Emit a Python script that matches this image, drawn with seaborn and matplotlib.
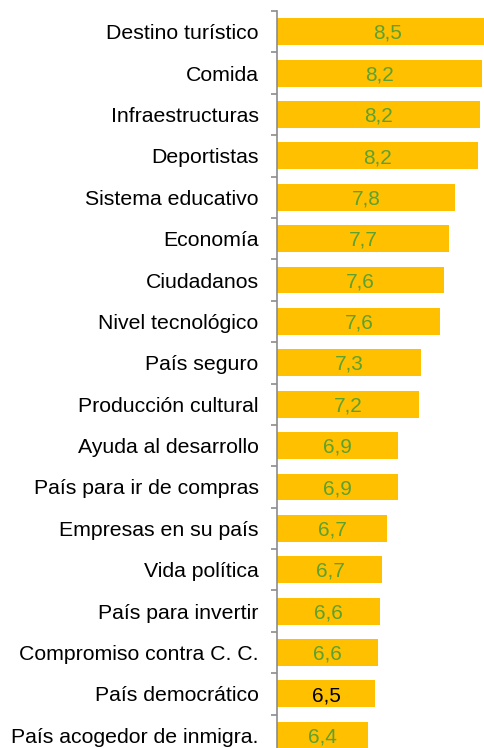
import numpy as np
import matplotlib
matplotlib.use('Agg')
import matplotlib.pyplot as plt
import seaborn as sns

# Valoraciones (escala 0-10)
categorias = ['Destino turístico', 'Comida', 'Infraestructuras', 'Deportistas',
              'Sistema educativo', 'Economía', 'Ciudadanos', 'Nivel tecnológico',
              'País seguro', 'Producción cultural', 'Ayuda al desarrollo',
              'País para ir de compras', 'Empresas en su país', 'Vida política',
              'País para invertir', 'Compromiso contra C. C.', 'País democrático',
              'País acogedor de inmigra.']
valores = [8.47, 8.22, 8.19, 8.16, 7.80, 7.69, 7.62, 7.56, 7.26, 7.23,
           6.89, 6.89, 6.72, 6.65, 6.61, 6.58, 6.54, 6.42]
# el unico valor con etiqueta negra
destacado = 'País democrático'

sns.set_style('white')
plt.rcParams['font.family'] = ['Liberation Sans', 'DejaVu Sans']

fig = plt.figure(figsize=(4.85, 7.48), dpi=100)
ax = fig.add_axes([277.5 / 485, -8 / 748, 1 - 277.5 / 485, 745 / 748])

xmin = 5
sns.barplot(x=valores, y=categorias, orient='h', color='#FFC000',
            saturation=1, width=0.65, linewidth=0, ax=ax)

ax.set_xlim(xmin, xmin + (485 - 277.5) / 63.57)
ax.set_ylim(len(categorias) - 0.5, -0.5)

for i, (c, v) in enumerate(zip(categorias, valores)):
    col = 'black' if c == destacado else '#5DA130'
    ax.text((xmin + v) / 2, i + 0.04, f'{v:.1f}'.replace('.', ','),
            ha='center', va='center', fontsize=15, color=col)

for s in ['top', 'right', 'bottom']:
    ax.spines[s].set_visible(False)
ax.spines['left'].set_color('#8C8C8C')
ax.spines['left'].set_linewidth(1.2)
ax.set_xticks([])
ax.set_xlabel('')
ax.set_ylabel('')

# marcas entre categorias
ax.set_yticks(np.arange(-0.5, len(categorias), 1), minor=True)
ax.tick_params(axis='y', which='minor', length=4.5, width=1.2, color='#8C8C8C', left=True)
ax.tick_params(axis='y', which='major', length=0, pad=13.5, labelsize=15.3, labelcolor='black')

fig.savefig('out.png', dpi=100)
